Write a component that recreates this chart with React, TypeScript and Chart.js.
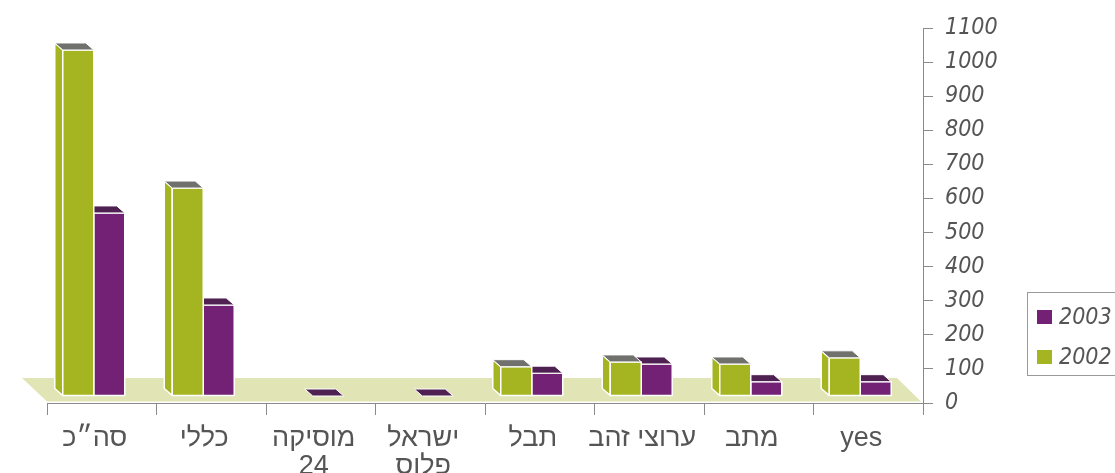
import React, { useEffect, useRef } from 'react';
import { Chart, registerables } from 'chart.js';

Chart.register(...registerables);

// ---- data ----
const categories: string[][] = [
  ['סה״כ'],
  ['כללי'],
  ['מוסיקה', '24'],
  ['ישראל', 'פלוס'],
  ['תבל'],
  ['ערוצי זהב'],
  ['מתב'],
  ['yes'],
];
const seriesNames = ['2002', '2003'];
const values2002: (number | null)[] = [1015, 610, null, null, 86, 100, 94, 112];
const values2003: (number | null)[] = [537, 267, 0, 0, 67, 94, 42, 42];
const yMin = 0;
const yMax = 1100;
const yStep = 100;

// ---- styles ----
const GREEN = '#a5b521';
const GREEN_TOP = '#70706c';
const PURPLE = '#732175';
const PURPLE_TOP = '#4f2152';
const FLOOR = '#e1e5b6';
const AXIS = '#8a8a8a';
const TEXT = '#555555';
const HAND_FONT = "'Liberation Sans Narrow', 'DejaVu Sans Condensed', 'Liberation Sans', sans-serif";
const LABEL_FONT = "'Liberation Sans', Arial, sans-serif";
const SHIFT_X = -8;
const SHIFT_Y = -7;
const DEPTH_X = -8;
const DEPTH_Y = -7;

const topColors = [GREEN_TOP, PURPLE_TOP];

const threeD = {
  id: 'threeD',
  beforeDatasetsDraw(chart: any) {
    const { ctx, chartArea } = chart;
    const { left, right, bottom } = chartArea;
    ctx.save();
    ctx.fillStyle = FLOOR;
    ctx.beginPath();
    ctx.moveTo(left, bottom - 1.5);
    ctx.lineTo(right - 2, bottom - 1.5);
    ctx.lineTo(right - 26, bottom - 25);
    ctx.lineTo(left - 25, bottom - 25);
    ctx.closePath();
    ctx.fill();
    ctx.restore();
    ctx.save();
    ctx.translate(SHIFT_X, SHIFT_Y);
  },
  afterDatasetsDraw(chart: any) {
    const { ctx } = chart;
    const n = chart.data.labels.length;
    const dsets = chart.data.datasets;
    for (let j = 0; j < n; j++) {
      for (let i = dsets.length - 1; i >= 0; i--) {
        const v = dsets[i].data[j];
        if (v == null) continue;
        const el = chart.getDatasetMeta(i).data[j];
        const { x, y, base, width } = el.getProps(['x', 'y', 'base', 'width'], true);
        const xl = x - width / 2;
        const xr = x + width / 2;
        const top = Math.min(y, base);
        const bot = Math.max(y, base);
        const col = dsets[i].backgroundColor;
        ctx.save();
        ctx.lineJoin = 'round';
        ctx.strokeStyle = '#ffffff';
        ctx.lineWidth = 1.5;
        if (bot - top > 0) {
          // left side face
          ctx.beginPath();
          ctx.moveTo(xl, top);
          ctx.lineTo(xl + DEPTH_X, top + DEPTH_Y);
          ctx.lineTo(xl + DEPTH_X, bot + DEPTH_Y);
          ctx.lineTo(xl, bot);
          ctx.closePath();
          ctx.fillStyle = col;
          ctx.fill();
          ctx.stroke();
          // front face
          ctx.beginPath();
          ctx.rect(xl, top, xr - xl, bot - top);
          ctx.fillStyle = col;
          ctx.fill();
          ctx.stroke();
        }
        // top face
        ctx.beginPath();
        ctx.moveTo(xl, top);
        ctx.lineTo(xr, top);
        ctx.lineTo(xr + DEPTH_X, top + DEPTH_Y);
        ctx.lineTo(xl + DEPTH_X, top + DEPTH_Y);
        ctx.closePath();
        ctx.fillStyle = topColors[i];
        ctx.fill();
        ctx.lineWidth = 1;
        ctx.stroke();
        ctx.restore();
      }
    }
    ctx.restore();
  },
};

const legendBox = {
  id: 'legendBox',
  afterDraw(chart: any) {
    const { ctx } = chart;
    ctx.save();
    ctx.strokeStyle = '#9a9a9a';
    ctx.lineWidth = 1;
    ctx.strokeRect(1027.5, 292.5, 100, 83);
    const order = chart.data.datasets.map((d: any, i: number) => i).reverse();
    order.forEach((i: number, k: number) => {
      const d = chart.data.datasets[i];
      const cy = 317 + k * 40;
      ctx.fillStyle = d.backgroundColor;
      ctx.fillRect(1037, cy - 7, 15, 14);
      ctx.fillStyle = TEXT;
      ctx.font = `italic 23px ${HAND_FONT}`;
      ctx.textBaseline = 'middle';
      ctx.textAlign = 'left';
      ctx.fillText(d.label, 1059, cy + 1);
    });
    ctx.restore();
  },
};

export default function App() {
  const ref = useRef<HTMLCanvasElement | null>(null);
  useEffect(() => {
    if (!ref.current) return;
    const chart = new Chart(ref.current, {
      type: 'bar',
      data: {
        labels: categories,
        datasets: [
          { label: seriesNames[0], data: values2002, backgroundColor: GREEN, borderColor: '#ffffff', borderWidth: 1.5 },
          { label: seriesNames[1], data: values2003, backgroundColor: PURPLE, borderColor: '#ffffff', borderWidth: 1.5 },
        ],
      },
      options: {
        responsive: false,
        animation: false,
        devicePixelRatio: 1,
        layout: { padding: { left: 47, top: 28, right: 0, bottom: 0 } },
        datasets: { bar: { categoryPercentage: 0.566, barPercentage: 1 } },
        plugins: { legend: { display: false }, tooltip: { enabled: false } },
        scales: {
          x: {
            type: 'category',
            grid: { display: true, drawOnChartArea: false, drawTicks: true, tickLength: 12, color: AXIS, offset: true },
            border: { display: true, color: AXIS, width: 1 },
            ticks: {
              color: TEXT,
              font: { family: LABEL_FONT, size: 27, lineHeight: 1.05 },
              maxRotation: 0,
              autoSkip: false,
              padding: 9,
              labelOffset: -7,
            },
            afterFit: (s: any) => { s.height = 70; },
          },
          y: {
            position: 'right',
            min: yMin,
            max: yMax,
            grid: { display: true, drawOnChartArea: false, drawTicks: true, tickLength: 10, color: AXIS },
            border: { display: true, color: AXIS, width: 1 },
            ticks: {
              stepSize: yStep,
              color: TEXT,
              padding: 12,
              font: { family: HAND_FONT, size: 23, style: 'italic' },
              callback: (v: any) => String(v),
            },
            afterFit: (s: any) => { s.width = 192; },
          },
        },
      },
      plugins: [threeD, legendBox],
    } as any);
    return () => chart.destroy();
  }, []);
  return (
    <div style={{ position: 'absolute', left: 0, top: 0, width: 1115, height: 473, background: '#ffffff' }}>
      <canvas ref={ref} width={1115} height={473} style={{ display: 'block' }} />
    </div>
  );
}
